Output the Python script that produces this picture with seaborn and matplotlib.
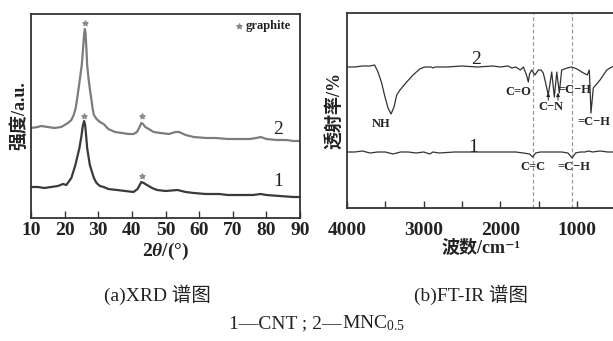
import numpy as np
import pandas as pd
import matplotlib
matplotlib.use("Agg")
import matplotlib.pyplot as plt
import seaborn as sns

# XRD (a): 2theta and intensity (a.u.)
xrd_2theta_mnc = [10, 12, 13, 15, 17, 19, 20, 21, 22, 22.7, 23.3, 23.75, 24.3, 24.7, 25.1, 25.5, 25.8,
                  26.0, 26.2, 26.5, 26.7, 27.1, 27.5, 27.9, 28.3, 28.7, 29.5, 30.5, 31.6, 33, 35, 37,
                  39, 40.5, 41.5, 42.3, 42.8, 43.3, 44, 45, 46.5, 48.5, 51, 53, 54, 56, 58.4, 62, 65,
                  68.5, 72, 75, 77, 78.3, 80, 83, 86, 88, 90]
xrd_int_mnc = [90, 91, 92, 91, 90, 91, 93, 95, 98, 103, 110, 120, 133, 143, 153, 170, 184,
               189, 186, 168, 153, 140, 129, 120, 110, 103, 99, 96, 94, 89, 86, 85,
               84, 84, 86, 91, 95, 94, 91, 89, 86, 85, 84, 86, 86, 83, 81, 80, 80,
               79, 79, 79, 80, 81, 79, 78, 78, 77, 77]
xrd_2theta_cnt = [10, 12, 14, 16, 18, 19.5, 20.5, 22, 23.2, 24.4, 25.0, 25.4, 25.8, 26.1, 26.4, 26.7,
                  27.5, 28.7, 29.5, 30.5, 31.6, 33, 35.6, 38, 40.5, 41.7, 42.8, 43.5, 44.5, 46, 47.5,
                  50, 53.6, 56, 58.4, 62, 66, 68.5, 72, 76, 78.3, 80, 84, 88, 90]
xrd_int_cnt = [31, 31, 30, 31, 32, 34, 33, 40, 53, 70, 82, 92, 97, 93, 82, 70,
               53, 40, 35, 32, 31, 29, 28, 27, 26, 29, 36, 35, 33, 30, 28,
               27, 28, 26, 25, 24, 24, 23, 23, 23, 24, 23, 22, 21, 21]
graphite_x = [26.0, 43, 25.8, 43]
graphite_y = [195, 102, 102, 42]

# FT-IR (b): wavenumber and transmittance
ir_wn_mnc = [4000, 3900, 3800, 3700, 3640, 3596, 3548, 3505, 3465, 3426, 3387, 3352, 3309, 3222, 3139,
             3052, 2987, 2900, 2880, 2850, 2700, 2500, 2300, 2100, 2000, 1900, 1850, 1800, 1740, 1700,
             1660, 1636, 1620, 1592, 1549, 1506, 1470, 1441, 1410, 1376, 1331, 1297, 1265, 1232, 1201,
             1131, 1070, 1000, 940, 867, 841, 819, 789, 701, 613, 548, 493]
ir_t_mnc = [141, 141, 142, 142, 143, 136, 125, 111, 100, 94, 101, 113, 118, 126, 133,
            139, 141, 141, 140, 141, 141, 142, 141, 142, 141, 142, 140, 141, 138, 141,
            133, 126, 134, 138, 133, 138, 138, 135, 125, 113, 136, 111, 136, 115, 138,
            140, 141, 139, 136, 133, 138, 95, 120, 128, 138, 141, 142]
ir_wn_cnt = [4000, 3900, 3800, 3700, 3600, 3500, 3400, 3300, 3200, 3100, 3000, 2920, 2880, 2800, 2600,
             2400, 2200, 2000, 1800, 1700, 1620, 1580, 1540, 1480, 1400, 1300, 1200, 1120, 1065, 1020,
             960, 900, 850, 800, 700, 600, 493]
ir_t_cnt = [56, 56, 57, 55, 56, 56, 54, 56, 56, 55, 56, 54, 56, 55, 56,
            56, 56, 56, 56, 55, 54, 51, 55, 56, 56, 56, 56, 55, 50, 55,
            56, 56, 57, 56, 57, 56, 56]
ir_marks = [1580, 1065]

sns.set_theme(style="ticks")
plt.rcParams['font.family'] = ['Liberation Serif', 'DejaVu Serif', 'Noto Sans CJK SC']
plt.rcParams['mathtext.fontset'] = 'custom'
plt.rcParams['mathtext.rm'] = 'Liberation Serif:bold'
plt.rcParams['mathtext.it'] = 'Liberation Serif:italic:bold'
plt.rcParams['mathtext.bf'] = 'Liberation Serif:bold'

W, H = 613, 341
fig = plt.figure(figsize=(W / 100, H / 100), dpi=100)
ax1 = fig.add_axes([31 / W, 1 - 218 / H, 269 / W, 204 / H])
ax2 = fig.add_axes([347 / W, 1 - 208 / H, 269 / W, 195 / H])

ink = "#222222"

# ---- (a) XRD
df_a2 = pd.DataFrame({"x": xrd_2theta_mnc, "y": xrd_int_mnc})
df_a1 = pd.DataFrame({"x": xrd_2theta_cnt, "y": xrd_int_cnt})
sns.lineplot(data=df_a2, x="x", y="y", ax=ax1, color="#7c7c7c", lw=1.6, errorbar=None)
sns.lineplot(data=df_a1, x="x", y="y", ax=ax1, color="#3a3a3a", lw=1.6, errorbar=None)
ax1.scatter(graphite_x, graphite_y, marker="*", s=14, color="#8a8a8a", zorder=5)
ax1.scatter([71.8], [192], marker="*", s=14, color="#8a8a8a", zorder=5)
ax1.text(73.8, 192, "graphite", fontsize=9, fontweight="bold", color=ink, va="center", ha="left")
ax1.text(83.4, 89, "2", fontsize=14, color=ink, ha="center", va="center")
ax1.text(83.4, 36, "1", fontsize=14, color=ink, ha="center", va="center")
ax1.set_xlim(10, 90)
ax1.set_ylim(0, 204)
ax1.set_xticks(range(10, 91, 10))
ax1.set_yticks([])
ax1.set_xlabel(r"2$\theta$/(°)", fontsize=14, fontweight="bold", color=ink, labelpad=1)
ax1.set_ylabel("强度/a.u.", fontsize=13, fontweight="bold", color=ink, labelpad=2)

# ---- (b) FT-IR
df_b2 = pd.DataFrame({"x": ir_wn_mnc, "y": ir_t_mnc})
df_b1 = pd.DataFrame({"x": ir_wn_cnt, "y": ir_t_cnt})
for wn in ir_marks:
    ax2.axvline(wn, color="#9a9a9a", lw=0.9, ls=(0, (3, 2)), zorder=1)
sns.lineplot(data=df_b2, x="x", y="y", ax=ax2, color="#333333", lw=0.9, errorbar=None)
sns.lineplot(data=df_b1, x="x", y="y", ax=ax2, color="#333333", lw=0.9, errorbar=None)
lab = dict(fontsize=9, fontweight="bold", color=ink, ha="center", va="center")
ax2.text(3557, 84, "NH", **lab)
ax2.text(1770, 116, "C=O", **lab)
ax2.text(1340, 101, "C−N", **lab)
ax2.text(1027, 118, "=C−H", **lab)
ax2.text(780, 86, "=C−H", **lab)
ax2.text(1575, 41, "C=C", **lab)
ax2.text(1040, 41, "=C−H", **lab)
for wn in [1376, 1249]:
    ax2.annotate("", xy=(wn, 118), xytext=(wn, 105),
                 arrowprops=dict(arrowstyle="-|>", lw=0.7, color=ink, mutation_scale=5))
ax2.text(2318, 148, "2", fontsize=14, color=ink, ha="center", va="center")
ax2.text(2357, 61, "1", fontsize=14, color=ink, ha="center", va="center")
ax2.set_xlim(4000, 4000 - 269 / 0.0767)
ax2.set_ylim(0, 195)
ax2.set_xticks([4000, 3000, 2000, 1000])
ax2.set_xticks([3500, 2500, 1500, 500], minor=True)
ax2.set_yticks([])
ax2.set_xlabel("波数/cm⁻¹", fontsize=13, fontweight="bold", color=ink, labelpad=1)
ax2.set_ylabel("透射率/%", fontsize=13, fontweight="bold", color=ink, labelpad=2)

for ax in (ax1, ax2):
    for s in ax.spines.values():
        s.set_color("#333333")
        s.set_linewidth(1.3)
    ax.tick_params(axis="x", which="both", direction="in", length=5, width=1.0,
                   color="#333333", labelsize=14, labelcolor=ink)
    for t in ax.get_xticklabels():
        t.set_fontweight("bold")
ax1.tick_params(axis="x", pad=3)
ax2.tick_params(axis="x", pad=10)

fig.text(157 / W, 1 - 295 / H, "(a)XRD 谱图", fontsize=14, color=ink, ha="center", va="center")
fig.text(471 / W, 1 - 295 / H, "(b)FT-IR 谱图", fontsize=14, color=ink, ha="center", va="center")

# bottom legend line: plain part + mathtext subscript part
r = fig.canvas.get_renderer()
t1 = fig.text(0, 1 - 328 / H, "1—CNT ; 2—", fontsize=14, color=ink, ha="left", va="baseline")
t2 = fig.text(0, 1 - 328 / H, "MNC$_{\\mathregular{0.5}}$", fontsize=14, color=ink,
              ha="left", va="baseline")
w1 = t1.get_window_extent(r).width
w2 = t2.get_window_extent(r).width
x0 = 317 - (w1 + w2) / 2
t1.set_x(x0 / W)
t2.set_x((x0 + w1) / W)

fig.savefig("out.png", dpi=100)
